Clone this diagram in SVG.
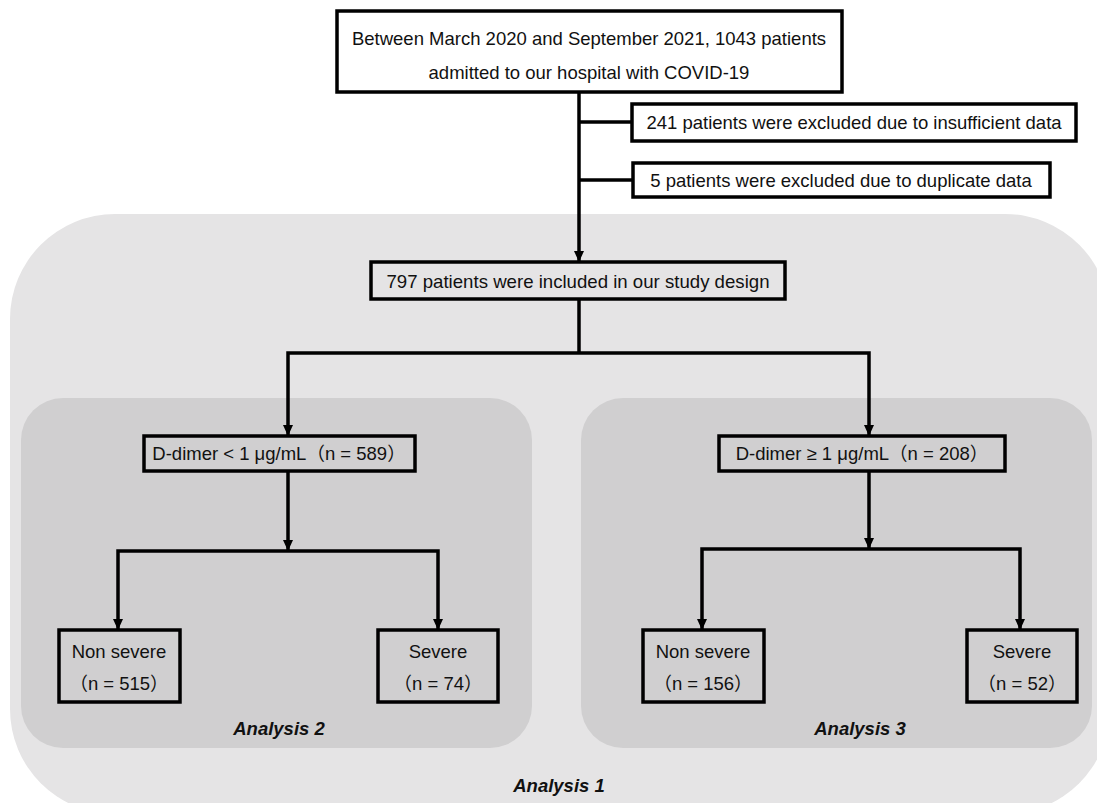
<svg xmlns="http://www.w3.org/2000/svg" width="1097" height="803" viewBox="0 0 1097 803">
<defs>
<marker id="arr" markerUnits="userSpaceOnUse" markerWidth="11" markerHeight="12" viewBox="0 0 11 12" refX="11" refY="5.5" orient="auto">
<path d="M0,0.5 L11,5.5 L0,10.5 Z" fill="#000"/>
</marker>
<style>
.box{fill:none;stroke:#000;stroke-width:3.5}
.boxw{fill:#fff;stroke:#000;stroke-width:3.5}
.t{font-family:"Liberation Sans","Noto Sans CJK SC",Arial,sans-serif;font-size:18.5px;fill:#111;text-anchor:middle}
.lab{font-family:"Liberation Sans",Arial,sans-serif;font-size:18.5px;font-weight:bold;font-style:italic;fill:#111;text-anchor:middle}
.c{fill:none;stroke:#000;stroke-width:3.5}
</style>
</defs>
<rect width="1097" height="803" fill="#fff"/>
<g id="analysis1">
<rect x="10" y="214" width="1100" height="600" rx="105" fill="#e5e4e5"/>
<text class="lab" x="559" y="792">Analysis 1</text>
</g>
<g id="analysis2">
<rect x="21" y="398" width="511" height="350" rx="42" fill="#d0cfd0"/>
<text class="lab" x="279" y="735">Analysis 2</text>
</g>
<g id="analysis3">
<rect x="581" y="398" width="511" height="350" rx="42" fill="#d0cfd0"/>
<text class="lab" x="860" y="735">Analysis 3</text>
</g>
<g id="connectors">
<path class="c" d="M579 92 V262" marker-end="url(#arr)"/>
<path class="c" d="M579 122 H632"/>
<path class="c" d="M579 180 H633"/>
<path class="c" d="M579 299 V353"/>
<path class="c" d="M579 353 H288 V436" marker-end="url(#arr)"/>
<path class="c" d="M579 353 H869 V436" marker-end="url(#arr)"/>
<path class="c" d="M288 471 V551" marker-end="url(#arr)"/>
<path class="c" d="M288 551 H118 V630" marker-end="url(#arr)"/>
<path class="c" d="M288 551 H438 V630" marker-end="url(#arr)"/>
<path class="c" d="M869 471 V549" marker-end="url(#arr)"/>
<path class="c" d="M869 549 H702 V630" marker-end="url(#arr)"/>
<path class="c" d="M869 549 H1020 V630" marker-end="url(#arr)"/>
</g>
<g id="start">
<rect class="boxw" x="337" y="11" width="505" height="81"/>
<text class="t" x="589" y="45">Between March 2020 and September 2021, 1043 patients</text>
<text class="t" x="589" y="79">admitted to our hospital with COVID-19</text>
</g>
<g id="excl1">
<rect class="boxw" x="632" y="104" width="444" height="37"/>
<text class="t" x="854" y="129">241 patients were excluded due to insufficient data</text>
</g>
<g id="excl2">
<rect class="boxw" x="633" y="163" width="417" height="34"/>
<text class="t" x="841" y="187">5 patients were excluded due to duplicate data</text>
</g>
<g id="included">
<rect class="box" x="371" y="262" width="414" height="37" fill="#e5e4e5"/>
<text class="t" x="578" y="288" font-size="19" textLength="383" lengthAdjust="spacingAndGlyphs">797 patients were included in our study design</text>
</g>
<g id="dlow">
<rect class="box" x="144" y="436" width="271" height="35"/>
<text class="t" x="279" y="460">D-dimer &lt; 1 μg/mL（n = 589）</text>
</g>
<g id="dhigh">
<rect class="box" x="719" y="436" width="286" height="35"/>
<text class="t" x="862" y="460">D-dimer ≥ 1 μg/mL（n = 208）</text>
</g>
<g id="low-nonsevere">
<rect class="box" x="59" y="630" width="121" height="72"/>
<text class="t" x="119" y="658">Non severe</text>
<text class="t" x="119" y="690">（n = 515）</text>
</g>
<g id="low-severe">
<rect class="box" x="378" y="630" width="120" height="72"/>
<text class="t" x="438" y="658">Severe</text>
<text class="t" x="438" y="690">（n = 74）</text>
</g>
<g id="high-nonsevere">
<rect class="box" x="643" y="630" width="121" height="72"/>
<text class="t" x="703" y="658">Non severe</text>
<text class="t" x="703" y="690">（n = 156）</text>
</g>
<g id="high-severe">
<rect class="box" x="967" y="630" width="110" height="72"/>
<text class="t" x="1022" y="658">Severe</text>
<text class="t" x="1022" y="690">（n = 52）</text>
</g>
</svg>
